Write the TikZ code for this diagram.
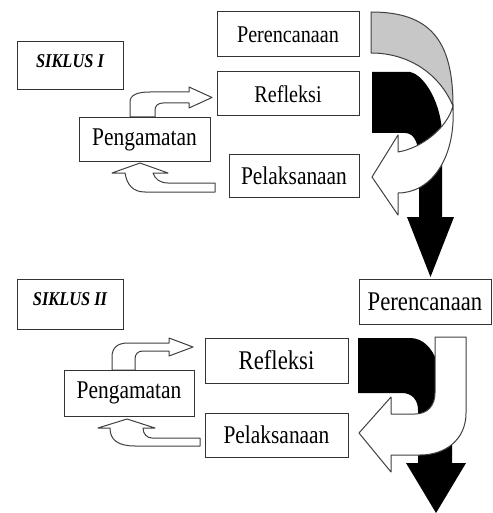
\documentclass[tikz,border=0pt]{standalone}
\usepackage{fontspec}
\setmainfont{Liberation Serif}
\usepackage{graphicx}
\usepackage{tikz}
\newcommand{\squeeze}[1]{\scalebox{0.84}[1]{#1}}
\tikzset{
  stage/.style={
    shape = rectangle,
    draw = black!80,
    line width = 1pt,
    fill = white,
    inner sep = 0pt,
    font = \fontsize{#1}{#1}\selectfont
  },
  stage/.default = 25.5,
  boxsize/.style 2 args={
    minimum width = #1pt,
    minimum height = #2pt
  },
  siklus/.style={
    inner sep = 0pt,
    font = \fontsize{19.5}{19.5}\selectfont\bfseries\itshape
  },
  blockarrow/.style={
    draw = black!75,
    line width = 1pt,
    line join = round,
    fill = white
  }
}

\begin{document}
\begin{tikzpicture}[x=1pt,y=-1pt]
        \useasboundingbox (0,0) rectangle (492,513);
        % siklus I
        \fill[black] (372,72) -- (410,72) .. controls (425,75) and (442,105) .. (442,135) -- (442,217) -- (454,217) -- (430.5,277) -- (407,217) -- (419,217) -- (419,160) .. controls (419,145) and (415,133) .. (405,133) -- (372,133) -- cycle;
        \draw[blockarrow, fill=black!22] (371,12) .. controls (430,12) and (453,40) .. (453,106) .. controls (440,75) and (410,53) .. (371,53) -- cycle;
        \draw[blockarrow] (453,106) .. controls (456,160) and (430,193) .. (398,193) -- (398,215) -- (372,177) -- (398,135) -- (398,152) .. controls (422,148) and (447,128) .. (453,106) -- cycle;
        \draw[blockarrow] (130,117) -- (130,102) .. controls (130,95) and (137,92) .. (150,92) -- (189,92) -- (189,87) -- (212,97.5) -- (189,108) -- (189,103) -- (163,103) .. controls (158,103) and (155,106) .. (155,110) -- (155,117) -- cycle;
        \draw[blockarrow] (215,183) -- (168,183) .. controls (160,183) and (155,179) .. (153,173) -- (168,173) -- (140,163) -- (112,173) -- (125,173) .. controls (127,185) and (133,192) .. (145,192) -- (215,192) -- cycle;
        \node[stage, boxsize={106}{48}] (sik1) at (70,66) {};
        \node[siklus] (sik1t) at (70,61.5) {\squeeze{SIKLUS I}};
        \node[stage=24, boxsize={142}{45}] (ren1) at (288,34.5) {\squeeze{Perencanaan}};
        \node[stage=24, boxsize={142}{44}] (ref1) at (288,94) {\squeeze{Refleksi}};
        \node[stage, boxsize={130}{43}] (lak1) at (294,175.5) {\squeeze{Pelaksanaan}};
        \node[stage, boxsize={131}{43}] (pgm1) at (144.5,139.5) {\squeeze{Pengamatan}};
        % siklus II
        \fill[black] (358,338) -- (410,338) .. controls (422,338) and (432,347) .. (437,362) -- (452,400) -- (452,463) -- (466,463) -- (436,513) -- (406,463) -- (418,463) -- (418,410) .. controls (418,400) and (412,393) .. (402,393) -- (358,393) -- cycle;
        \draw[blockarrow] (435,337) -- (466,337) -- (466,413) .. controls (466,440) and (445,455) .. (420,455) -- (391,455) -- (391,472) -- (359,433) -- (391,397) -- (391,414) -- (415,414) .. controls (428,414) and (435,405) .. (435,393) -- cycle;
        \draw[blockarrow] (112,370) -- (112,357) .. controls (112,348) and (117,343) .. (128,343) -- (169,343) -- (169,338) -- (193,347) -- (169,356) -- (169,351) -- (143,351) .. controls (138,351) and (135,354) .. (135,359) -- (135,370) -- cycle;
        \draw[blockarrow] (200,438) -- (152,438) .. controls (147,438) and (143,434) .. (143,428) -- (155,428) -- (127,419) -- (98,428) -- (110,428) .. controls (110,440) and (118,446) .. (135,446) -- (200,446) -- cycle;
        \node[stage, boxsize={106}{50}] (sik2) at (70,304) {};
        \node[siklus] (sik2t) at (70,299) {\squeeze{SIKLUS II}};
        \node[stage=27, boxsize={132}{45}] (ren2) at (425,301.5) {\squeeze{Perencanaan}};
        \node[stage=27, boxsize={143}{45}] (ref2) at (276.5,360.5) {\squeeze{Refleksi}};
        \node[stage, boxsize={143}{44}] (lak2) at (276.5,435) {\squeeze{Pelaksanaan}};
        \node[stage, boxsize={130}{46}] (pgm2) at (129,393) {\squeeze{Pengamatan}};
\end{tikzpicture}
\end{document}
